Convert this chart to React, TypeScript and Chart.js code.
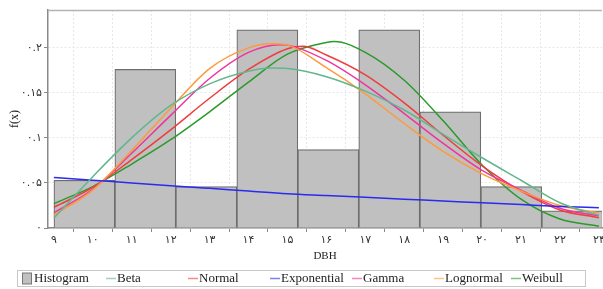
import React, { useEffect, useRef } from "react";
import { Chart, registerables } from "chart.js";

Chart.register(...registerables);

// Histogram bins (DBH) and densities
const binEdges = [9, 10.57, 12.13, 13.7, 15.27, 16.83, 18.4, 19.97, 21.53, 23.1];
const histValues = [0.053, 0.176, 0.046, 0.22, 0.087, 0.22, 0.129, 0.046, 0.019];

// Fitted curves
const betaX = [9, 10, 11, 12, 13, 14, 14.6, 15, 16, 17, 18, 19, 20, 21, 22, 23];
const betaY = [0.011, 0.057, 0.1, 0.136, 0.16, 0.174, 0.1775, 0.177, 0.168, 0.152, 0.131, 0.104, 0.078, 0.053, 0.028, 0.014];

const normalX = [9, 10, 11, 12, 13, 14, 15, 15.4, 16, 17, 18, 19, 20, 21, 22, 23];
const normalY = [0.023, 0.045, 0.076, 0.109, 0.144, 0.176, 0.199, 0.2017, 0.192, 0.17, 0.139, 0.103, 0.069, 0.041, 0.02, 0.0115];

const expX = [9, 10, 11, 12, 13, 14, 15, 16, 17, 18, 19, 20, 21, 22, 23];
const expY = [0.056, 0.053, 0.05, 0.047, 0.044, 0.041, 0.038, 0.036, 0.034, 0.032, 0.03, 0.028, 0.026, 0.024, 0.0225];

const gammaX = [9, 10, 11, 12, 13, 14, 14.8, 15, 16, 17, 18, 19, 20, 21, 22, 23];
const gammaY = [0.017, 0.043, 0.083, 0.125, 0.166, 0.195, 0.2035, 0.203, 0.186, 0.159, 0.127, 0.094, 0.064, 0.042, 0.022, 0.0135];

const lognormX = [9, 10, 11, 12, 13, 14, 14.6, 15, 16, 17, 18, 19, 20, 21, 22, 23];
const lognormY = [0.0144, 0.042, 0.086, 0.133, 0.177, 0.2, 0.2044, 0.203, 0.178, 0.149, 0.116, 0.085, 0.06, 0.041, 0.025, 0.0165];

const weibullX = [9, 10, 11, 12, 13, 14, 15, 16, 16.2, 17, 18, 19, 20, 21, 22, 23];
const weibullY = [0.027, 0.046, 0.071, 0.098, 0.129, 0.162, 0.193, 0.206, 0.207, 0.195, 0.164, 0.119, 0.07, 0.032, 0.01, 0.002];

const xTickValues = [9, 10, 11, 12, 13, 14, 15, 16, 17, 18, 19, 20, 21, 22, 23];
const yTickValues = [0, 0.05, 0.1, 0.15, 0.2];

const legendLabels = ["Histogram", "Beta", "Normal", "Exponential", "Gamma", "Lognormal", "Weibull"];
const seriesColors = ["#c0c0c0", "#62b68e", "#f03c3c", "#2a2af0", "#f0349a", "#ff9a3c", "#2a9a2a"];

const faDigits = "۰۱۲۳۴۵۶۷۸۹";
const toFa = (s: string) => s.replace(/\d/g, (d) => faDigits[+d]);
const pts = (xs: number[], ys: number[]) => xs.map((x, i) => ({ x, y: ys[i] }));

const legendPlugin = {
  id: "customLegend",
  afterDraw(chart: any) {
    const ctx = chart.ctx as CanvasRenderingContext2D;
    const ca = chart.chartArea;
    ctx.save();
    // top frame line
    ctx.strokeStyle = "#b4b4b4";
    ctx.lineWidth = 1.5;
    ctx.beginPath();
    ctx.moveTo(ca.left, ca.top + 0.5);
    ctx.lineTo(ca.right, ca.top + 0.5);
    ctx.stroke();

    // legend box
    ctx.strokeStyle = "#c8c8c8";
    ctx.lineWidth = 1;
    ctx.strokeRect(17.5, 270.5, 568, 16);
    const starts = [22, 106, 188, 270, 352, 434, 511];
    const cy = 278.5;
    ctx.font = '13px "Liberation Serif", serif';
    ctx.textBaseline = "middle";
    ctx.fillStyle = "#222";
    legendLabels.forEach((label, i) => {
      const x = starts[i];
      if (i === 0) {
        ctx.fillStyle = seriesColors[0];
        ctx.fillRect(x, cy - 5.5, 9, 11);
        ctx.strokeStyle = "#777";
        ctx.lineWidth = 1;
        ctx.strokeRect(x + 0.5, cy - 5.5, 9, 11);
        ctx.fillStyle = "#222";
        ctx.fillText(label, x + 12, cy);
      } else {
        ctx.globalAlpha = 0.6;
        ctx.strokeStyle = seriesColors[i];
        ctx.lineWidth = 1.5;
        ctx.beginPath();
        ctx.moveTo(x, cy);
        ctx.lineTo(x + 10, cy);
        ctx.stroke();
        ctx.globalAlpha = 1;
        ctx.fillStyle = "#222";
        ctx.fillText(label, x + 11, cy);
      }
    });
    ctx.restore();
  },
};

export default function App() {
  const ref = useRef<HTMLCanvasElement | null>(null);

  useEffect(() => {
    if (!ref.current) return;
    const centers = histValues.map((_, i) => (binEdges[i] + binEdges[i + 1]) / 2);
    const lineDs = (label: string, data: any[], color: string) => ({
      type: "line" as const,
      label,
      data,
      borderColor: color,
      backgroundColor: color,
      borderWidth: 1.5,
      pointRadius: 0,
      cubicInterpolationMode: "monotone" as const,
      fill: false,
      order: 1,
    });
    const chart = new Chart(ref.current, {
      type: "line",
      data: {
        datasets: [
          lineDs("Beta", pts(betaX, betaY), seriesColors[1]),
          lineDs("Exponential", pts(expX, expY), seriesColors[3]),
          lineDs("Lognormal", pts(lognormX, lognormY), seriesColors[5]),
          lineDs("Gamma", pts(gammaX, gammaY), seriesColors[4]),
          lineDs("Normal", pts(normalX, normalY), seriesColors[2]),
          lineDs("Weibull", pts(weibullX, weibullY), seriesColors[6]),
          {
            type: "bar" as const,
            label: "Histogram",
            data: pts(centers, histValues) as any,
            backgroundColor: seriesColors[0],
            borderColor: "#6e6e6e",
            borderWidth: 1.2,
            borderSkipped: "bottom",
            barThickness: "flex",
            barPercentage: 1,
            categoryPercentage: 1,
            order: 10,
          } as any,
        ],
      },
      options: {
        animation: false,
        responsive: true,
        maintainAspectRatio: false,
        layout: { padding: { top: 10, right: 1, bottom: 24, left: 0 } },
        plugins: { legend: { display: false }, tooltip: { enabled: false } },
        scales: {
          x: {
            type: "linear",
            min: 8.85,
            max: 23.08,
            offset: false,
            afterBuildTicks: (s: any) => {
              s.ticks = xTickValues.map((v) => ({ value: v }));
            },
            afterFit: (s: any) => {
              s.height = 37;
              s.paddingLeft = 0;
              s.paddingRight = 0;
            },
            ticks: {
              callback: (v: any) => toFa(String(v)),
              font: { family: '"DejaVu Sans", sans-serif', size: 11 },
              color: "#333",
              padding: 2,
              maxRotation: 0,
              autoSkip: false,
            },
            grid: { color: "#e6e6e6", tickColor: "#888", tickLength: 4 },
            border: { color: "#8a8a8a", width: 1.5, dash: [2, 2] },
            title: {
              display: true,
              text: "DBH",
              font: { family: '"Liberation Serif", serif', size: 11 },
              color: "#222",
              padding: { top: 0, bottom: 2 },
            },
          },
          y: {
            type: "linear",
            min: 0,
            max: 0.242,
            afterBuildTicks: (s: any) => {
              s.ticks = yTickValues.map((v) => ({ value: v }));
            },
            afterFit: (s: any) => {
              s.width = 48;
            },
            ticks: {
              callback: (v: any) => toFa(String(Math.round(v * 100) / 100)),
              font: { family: '"DejaVu Sans", sans-serif', size: 11 },
              color: "#333",
              padding: 2,
            },
            grid: { color: "#e6e6e6", tickColor: "#888", tickLength: 4 },
            border: { color: "#8a8a8a", width: 1.5, dash: [2, 2] },
            title: {
              display: true,
              text: "f(x)",
              font: { family: '"Liberation Serif", serif', size: 12 },
              color: "#222",
              padding: { top: 8, bottom: 0 },
            },
          },
        },
      },
      plugins: [legendPlugin],
    });
    return () => chart.destroy();
  }, []);

  return (
    <div style={{ position: "fixed", left: 0, top: 0, width: 603, height: 289, background: "#fff" }}>
      <canvas ref={ref} />
    </div>
  );
}
